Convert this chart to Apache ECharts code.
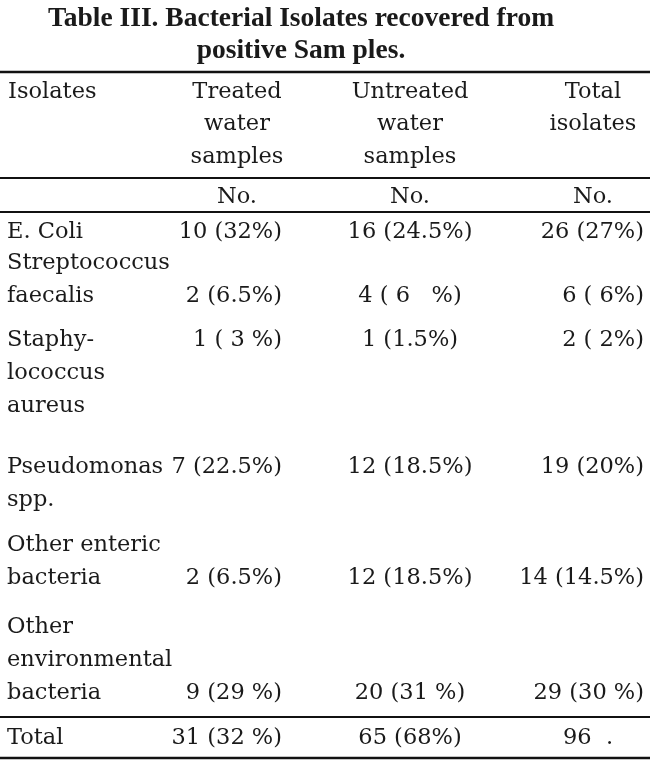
<!DOCTYPE html>
<html>
<head>
<meta charset="utf-8">
<script src="https://cdn.jsdelivr.net/npm/echarts@6/dist/echarts.min.js"></script>
<style>
html, body { margin: 0; padding: 0; background: #fff; }
#main { width: 650px; height: 769px; }
</style>
</head>
<body>
<div id="main"></div>
<script>
// table content
var titleLines = ['Table III. Bacterial Isolates recovered from', 'positive Sam ples.'];
var headers = ['Isolates', 'Treated\nwater\nsamples', 'Untreated\nwater\nsamples', 'Total\nisolates'];
var unitRow = ['', 'No.', 'No.', 'No.'];
var isolates = ['E. Coli', 'Streptococcus\nfaecalis', 'Staphy-\nlococcus\naureus', 'Pseudomonas\nspp.', 'Other enteric\nbacteria', 'Other\nenvironmental\nbacteria'];
var treated = ['10 (32%)', '2 (6.5%)', '1 ( 3 %)', '7 (22.5%)', '2 (6.5%)', '9 (29 %)'];
var untreated = ['16 (24.5%)', '4 ( 6   %)', '1 (1.5%)', '12 (18.5%)', '12 (18.5%)', '20 (31 %)'];
var totalIsolates = ['26 (27%)', '6 ( 6%)', '2 ( 2%)', '19 (20%)', '14 (14.5%)', '29 (30 %)'];
var totalRow = ['Total', '31 (32 %)', '65 (68%)', '96  .'];

// layout
var W = 650, H = 769;
var font = 'DejaVu Serif';
var bodySize = 22.5;
var headX = [8, 237, 410, 593];
var headAlign = ['left', 'center', 'center', 'center'];
var cellX = [7, 282, 410, 644];
var cellAlign = ['left', 'right', 'center', 'right'];
var headTop = 92, headLineH = 32.5;
var unitY = 197;
var bodyTop = 232, bodyLineH = 33;
var rowGap = [-2, 11, 28, 12, 16];
var valueOnFirstLine = [true, false, true, true, false, false];
var totalY = 738;

var cells = [];
function addCell(x, y, text, align, bold, size) {
    cells.push({ value: [x, y], text: text, align: align, bold: bold, size: size });
}

titleLines.forEach(function (t, i) {
    addCell(301, 19 + i * 32, t, 'center', true, 27.5);
});
headers.forEach(function (h, c) {
    h.split('\n').forEach(function (line, k) {
        addCell(headX[c], headTop + k * headLineH, line, headAlign[c]);
    });
});
unitRow.forEach(function (u, c) {
    if (u) addCell(headX[c], unitY, u, 'center');
});
var y = bodyTop;
isolates.forEach(function (name, r) {
    var lines = name.split('\n');
    lines.forEach(function (line, k) {
        addCell(cellX[0], y + k * bodyLineH, line, 'left');
    });
    var vy = valueOnFirstLine[r] ? y : y + (lines.length - 1) * bodyLineH;
    [treated[r], untreated[r], totalIsolates[r]].forEach(function (v, c) {
        addCell(cellX[c + 1], vy, v, cellAlign[c + 1]);
    });
    y += lines.length * bodyLineH + (r < rowGap.length ? rowGap[r] : 0);
});
totalRow.forEach(function (v, c) {
    addCell(c === 3 ? 588 : cellX[c], totalY, v, c === 3 ? 'center' : cellAlign[c]);
});

// horizontal rules [y, width]
var rules = [[72, 2.6], [178, 1.8], [212, 1.8], [717, 2.2], [758, 2.6]];

var chart = echarts.init(document.getElementById('main'));
chart.setOption({
    backgroundColor: '#fff',
    animation: false,
    grid: { left: 0, right: 0, top: 0, bottom: 0 },
    xAxis: { type: 'value', min: 0, max: W, show: false },
    yAxis: { type: 'value', min: 0, max: H, inverse: true, show: false },
    series: [{
        type: 'custom',
        data: cells,
        renderItem: function (params, api) {
            var d = cells[params.dataIndex];
            var p = api.coord([api.value(0), api.value(1)]);
            return {
                type: 'text',
                x: p[0],
                y: p[1],
                style: {
                    text: d.text,
                    fill: '#1a1a1a',
                    align: d.align,
                    verticalAlign: 'middle',
                    font: (d.bold ? 'bold ' : '') + (d.size || bodySize) + 'px "' + (d.bold ? 'Liberation Serif' : font) + '"'
                }
            };
        }
    }, {
        type: 'custom',
        data: rules,
        renderItem: function (params, api) {
            var a = api.coord([0, api.value(0)]);
            var b = api.coord([W, api.value(0)]);
            return {
                type: 'line',
                shape: { x1: a[0], y1: a[1], x2: b[0], y2: b[1] },
                style: { stroke: '#111', lineWidth: api.value(1) }
            };
        }
    }]
});
</script>
</body>
</html>
